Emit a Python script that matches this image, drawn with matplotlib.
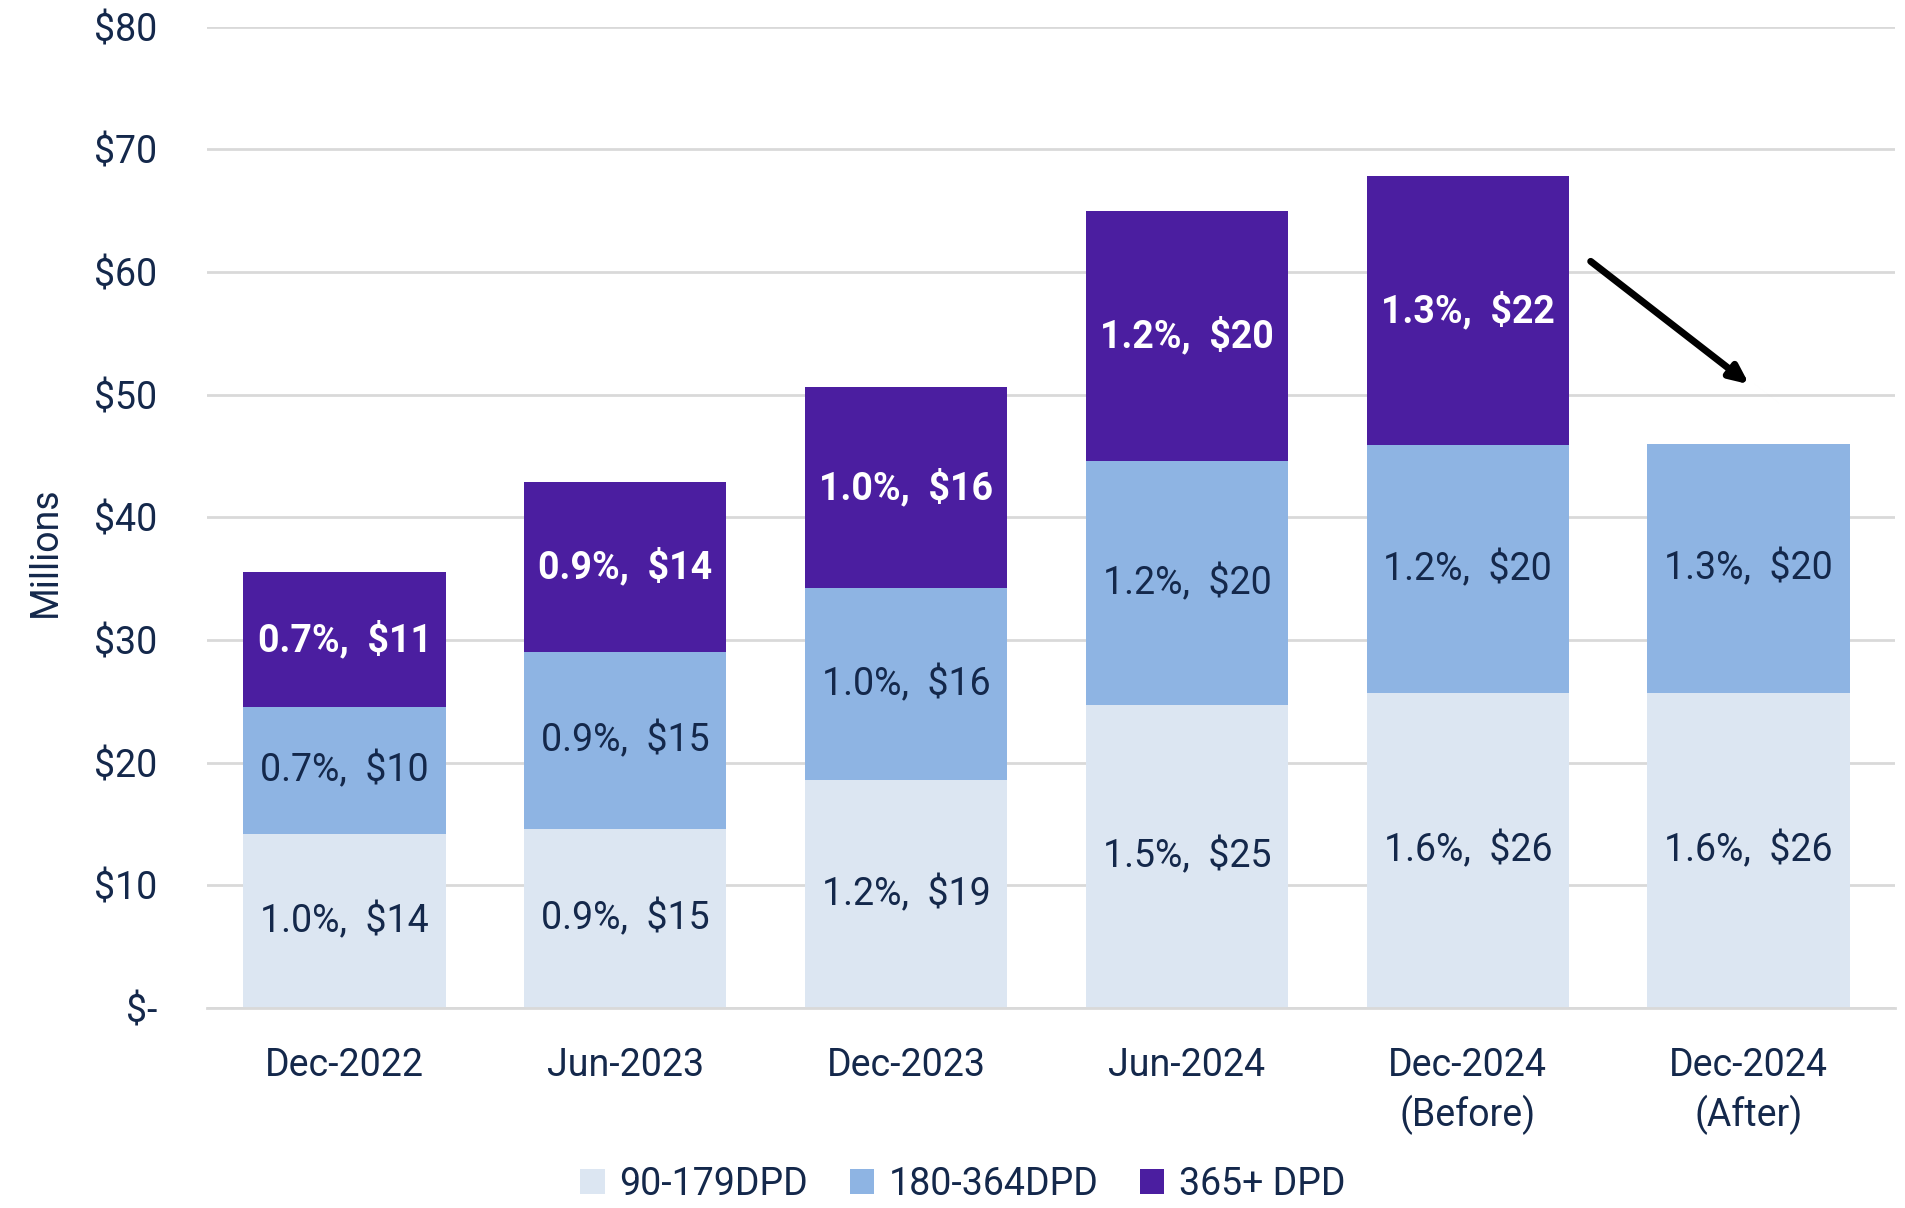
import numpy as np
import matplotlib
matplotlib.use("Agg")
import matplotlib.pyplot as plt

plt.rcParams['font.family'] = ['Roboto', 'DejaVu Sans']

categories = ['Dec-2022', 'Jun-2023', 'Dec-2023', 'Jun-2024', 'Dec-2024\n(Before)', 'Dec-2024\n(After)']
series = ['90-179DPD', '180-364DPD', '365+ DPD']

# $ millions
v_90 = [14.2, 14.6, 18.6, 24.7, 25.7, 25.7]
v_180 = [10.3, 14.4, 15.6, 19.9, 20.2, 20.3]
v_365 = [11.0, 13.9, 16.4, 20.4, 21.9, 0.0]

pct_90 = ['1.0%', '0.9%', '1.2%', '1.5%', '1.6%', '1.6%']
pct_180 = ['0.7%', '0.9%', '1.0%', '1.2%', '1.2%', '1.3%']
pct_365 = ['0.7%', '0.9%', '1.0%', '1.2%', '1.3%', '']
amt_90 = ['$14', '$15', '$19', '$25', '$26', '$26']
amt_180 = ['$10', '$15', '$16', '$20', '$20', '$20']
amt_365 = ['$11', '$14', '$16', '$20', '$22', '']

colors = ['#DCE6F2', '#8EB4E3', '#4B1EA0']
navy = '#14284B'
fs = 27

fig = plt.figure(figsize=(19.06, 12.08), dpi=100)
ax = fig.add_axes([0.1086, 0.1656, 0.8854, 0.8124])

x = np.arange(len(categories))
w = 0.72
ax.bar(x, v_90, w, color=colors[0], label=series[0], zorder=2)
ax.bar(x, v_180, w, bottom=v_90, color=colors[1], label=series[1], zorder=2)
bot3 = np.array(v_90) + np.array(v_180)
ax.bar(x, v_365, w, bottom=bot3, color=colors[2], label=series[2], zorder=2)

for i in range(len(x)):
    ax.text(x[i], v_90[i] / 2, f'{pct_90[i]},  {amt_90[i]}', ha='center', va='center',
            fontsize=fs, color=navy, zorder=3)
    ax.text(x[i], v_90[i] + v_180[i] / 2, f'{pct_180[i]},  {amt_180[i]}', ha='center', va='center',
            fontsize=fs, color=navy, zorder=3)
    if v_365[i] > 0:
        ax.text(x[i], bot3[i] + v_365[i] / 2, f'{pct_365[i]},  {amt_365[i]}', ha='center', va='center',
                fontsize=fs, color='white', fontweight='bold', zorder=3)

ax.annotate('', xy=(5.01, 50.7), xytext=(4.43, 61.0),
            arrowprops=dict(arrowstyle='-|>,head_length=1.1,head_width=0.5', color='black', lw=5))

ax.set_xlim(-0.49, 5.52)
ax.set_ylim(0, 80)
ax.set_yticks(np.arange(0, 81, 10))
ax.set_yticklabels(['$-'] + [f'${v}' for v in range(10, 81, 10)])
ax.set_xticks(x)
ax.set_xticklabels(categories, linespacing=1.35)
ax.tick_params(axis='both', length=0, labelsize=fs, labelcolor=navy)
ax.tick_params(axis='y', pad=36)
ax.tick_params(axis='x', pad=28)

ax.grid(axis='y', color='#D9D9D9', lw=2, zorder=0)
for s in ['top', 'right', 'left']:
    ax.spines[s].set_visible(False)
ax.spines['bottom'].set_color('#D9D9D9')
ax.spines['bottom'].set_linewidth(2)

ax.set_ylabel('Millions', fontsize=fs, color=navy)
ax.yaxis.set_label_coords(-0.085, 0.465)

ax.legend(loc='center', bbox_to_anchor=(0.448, -0.180), ncol=3, frameon=False,
          fontsize=fs, labelcolor=navy, handlelength=0.65, handleheight=0.65,
          handletextpad=0.4, columnspacing=1.1)

fig.savefig('out.png', dpi=100)
